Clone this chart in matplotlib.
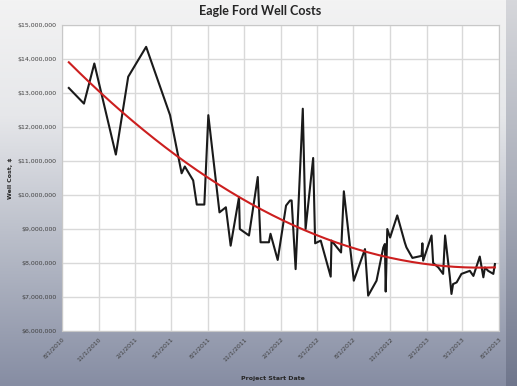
# Eagle Ford well costs by project start date, with a polynomial trendline.
from datetime import datetime
import numpy as np
import matplotlib
matplotlib.use('Agg')
from matplotlib import pyplot as plt
import matplotlib.dates as mdates
from matplotlib.colors import LinearSegmentedColormap

# Project start dates and well costs (millions of $).
start_dates = [
    '2010-08-18', '2010-09-25', '2010-10-21', '2010-12-14', '2011-01-14',
    '2011-02-28', '2011-04-29', '2011-05-28', '2011-06-05', '2011-06-26',
    '2011-07-05', '2011-07-24', '2011-08-03', '2011-08-31', '2011-09-16',
    '2011-09-28', '2011-10-19', '2011-10-21', '2011-11-13', '2011-12-05',
    '2011-12-12', '2012-01-02', '2012-01-06', '2012-01-24', '2012-02-14',
    '2012-02-24', '2012-02-28', '2012-03-09', '2012-03-27', '2012-04-03',
    '2012-04-22', '2012-04-27', '2012-05-11', '2012-06-05', '2012-06-07',
    '2012-07-01', '2012-07-08', '2012-08-02', '2012-08-30', '2012-09-07',
    '2012-09-28', '2012-10-15', '2012-10-19', '2012-10-21', '2012-10-25',
    '2012-11-01', '2012-11-19', '2012-12-08', '2012-12-12', '2012-12-27',
    '2013-01-19', '2013-01-21', '2013-01-23', '2013-02-13', '2013-02-17',
    '2013-03-02', '2013-03-14', '2013-03-19', '2013-03-31', '2013-04-04',
    '2013-04-08', '2013-04-17', '2013-04-29', '2013-05-20', '2013-05-29',
    '2013-06-14', '2013-06-23', '2013-06-27', '2013-07-05', '2013-07-18',
    '2013-07-22',
]
well_costs = [
    13.15, 12.69, 13.87, 11.19, 13.48,
    14.36, 12.35, 10.64, 10.84, 10.43,
    9.72, 9.72, 12.35, 9.49, 9.64,
    8.51, 9.94, 9.00, 8.81, 10.53,
    8.61, 8.61, 8.86, 8.09, 9.69,
    9.84, 9.84, 7.82, 12.54, 9.00,
    11.09, 8.58, 8.66, 7.60, 8.66,
    8.31, 10.11, 7.48, 8.41, 7.04,
    7.48, 8.46, 8.56, 7.16, 9.00,
    8.75, 9.40, 8.60, 8.46, 8.15,
    8.21, 8.58, 8.07, 8.81, 8.00,
    7.87, 7.68, 8.81, 7.58, 7.09,
    7.38, 7.43, 7.68, 7.77, 7.62,
    8.19, 7.58, 7.87, 7.77, 7.68,
    7.97,
]

# Trendline values (millions of $).
trend_dates = ['2010-08-18', '2011-05-28', '2012-02-14', '2012-11-01',
               '2013-03-19', '2013-07-22']
trend_values = [13.97, 10.92, 9.20, 8.27, 7.97, 7.77]

tick_dates = ['2010-08-01', '2010-11-01', '2011-02-01', '2011-05-01',
              '2011-08-01', '2011-11-01', '2012-02-01', '2012-05-01',
              '2012-08-01', '2012-11-01', '2013-02-01', '2013-05-01',
              '2013-08-01']
tick_labels = ['8/1/2010', '11/1/2010', '2/1/2011', '5/1/2011', '8/1/2011',
               '11/1/2011', '2/1/2012', '5/1/2012', '8/1/2012', '11/1/2012',
               '2/1/2013', '5/1/2013', '8/1/2013']
cost_ticks = [6, 7, 8, 9, 10, 11, 12, 13, 14, 15]


def to_num(strings):
    return mdates.date2num([datetime.strptime(d, '%Y-%m-%d') for d in strings])


xnum = to_num(start_dates)
costs = np.array(well_costs) * 1e6
ticks = to_num(tick_dates)

# Smooth 2nd order curve through the read trendline values.
tx = to_num(trend_dates)
coef = np.polyfit(tx - tx[0], np.array(trend_values) * 1e6, 2)
trend_x = np.linspace(tx[0], tx[-1], 200)
trend_y = np.polyval(coef, trend_x - tx[0])

fig = plt.figure(figsize=(5.17, 3.86), dpi=100)

# Background gradient, light at the top, slate blue-grey at the bottom.
bg = fig.add_axes([0, 0, 1, 1], zorder=-2)
cmap = LinearSegmentedColormap.from_list(
    'bg', [(0.0, '#f3f3f3'), (0.3, '#e6e7ea'), (0.6, '#bcc0cb'), (1.0, '#868da3')])
grad = np.linspace(0, 1, 256).reshape(-1, 1)
bg.imshow(grad, aspect='auto', cmap=cmap, extent=[0, 1, 0, 1], origin='upper')
# darker bevel strip on the right edge
edge = fig.add_axes([0.978, 0, 0.022, 1], zorder=-1)
edge_cmap = LinearSegmentedColormap.from_list(
    'edge', [(0.0, '#d6d7db'), (0.5, '#a9adb9'), (1.0, '#6f768c')])
edge.imshow(grad, aspect='auto', cmap=edge_cmap, extent=[0, 1, 0, 1],
            origin='upper')
bg.axis('off')
edge.axis('off')

ax = fig.add_axes([0.120, 0.1425, 0.845, 0.7925])
ax.set_facecolor('white')
ax.plot(xnum, costs, color='#1a1a1a', linewidth=1.5, zorder=3)
ax.plot(trend_x, trend_y, color='#cc1f1f', linewidth=1.5, zorder=4)

ax.set_xlim(ticks[0], ticks[-1])
ax.set_ylim(6e6, 15e6)
ax.set_xticks(ticks)
ax.set_xticklabels(tick_labels, rotation=45, ha='right', va='top',
                   fontsize=4.5, color='#404040', rotation_mode='anchor')
ax.set_yticks([v * 1e6 for v in cost_ticks])
ax.set_yticklabels([f'${v * 1e6:,.0f}' for v in cost_ticks],
                   fontsize=4.5, color='#404040')
ax.tick_params(length=0, pad=4)
ax.grid(True, color='#d9d9d9', linewidth=1)
ax.set_axisbelow(True)
for s in ax.spines.values():
    s.set_color('#c8c8c8')

ax.set_ylabel('Well Cost, $', fontsize=4.5, fontweight='bold', color='#262626',
              labelpad=3)
fig.text(0.528, 0.012, 'Project Start Date', fontsize=4.5, fontweight='bold',
         color='#262626', ha='center', va='bottom')
fig.text(0.503, 0.972, 'Eagle Ford Well Costs', fontsize=9, fontweight='bold',
         family='Lato', color='#262626', ha='center', va='center')

fig.savefig('out.png', dpi=100)
